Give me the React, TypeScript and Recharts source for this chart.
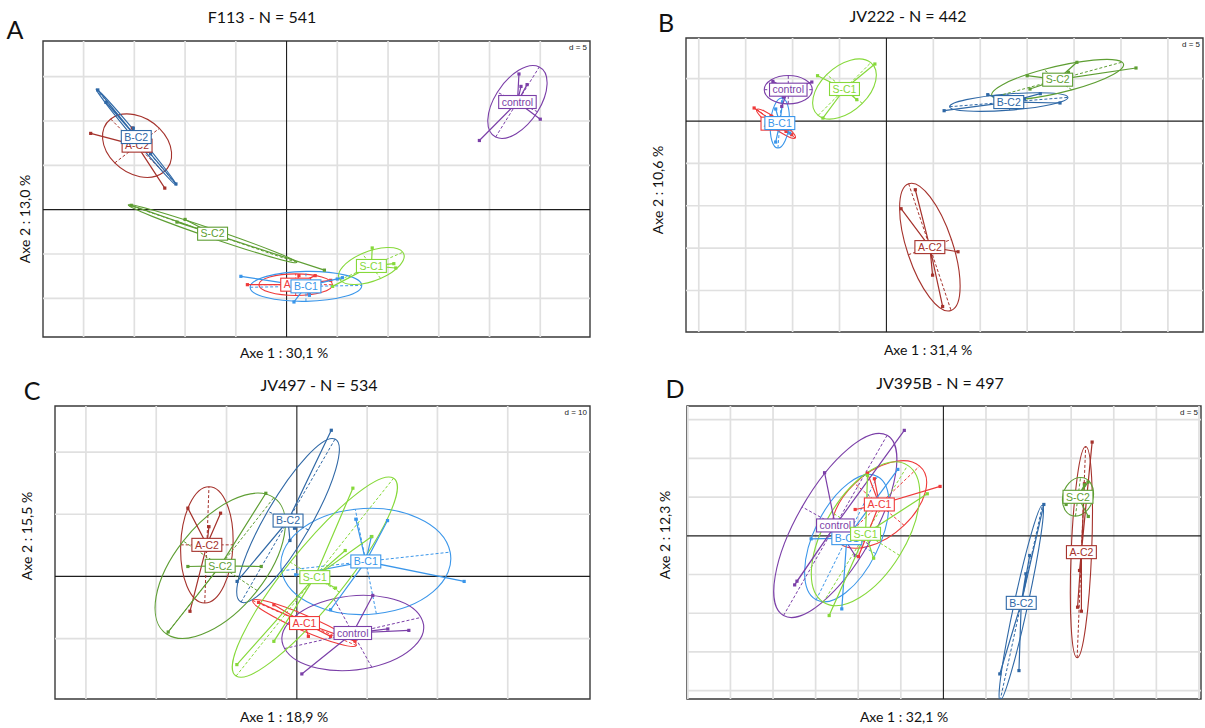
import { ReferenceArea, ReferenceLine, Scatter, ScatterChart, XAxis, YAxis } from "recharts";

type Pt = [number, number];
// ellipse half-axes as two conjugate vectors: [ux, uy, vx, vy]
type Axes = [number, number, number, number];

const groups = ["A-C1", "A-C2", "B-C1", "B-C2", "control", "S-C1", "S-C2"];
const groupColors: Record<string, string> = {
  "A-C1": "#ef3a3a",
  "A-C2": "#a5322c",
  "B-C1": "#3a96ea",
  "B-C2": "#2f68a6",
  control: "#7b3fa8",
  "S-C1": "#86d93a",
  "S-C2": "#5e9e33",
};

// ---- A : F113
const aXTicks = [-20, -15, -10, -5, 5, 10, 15, 20, 25];
const aYTicks = [-10, -5, 5, 10, 15];
const aCentroids: Record<string, Pt> = {
  "A-C1": [0.9, -8.46],
  "A-C2": [-14.73, 7.22],
  "B-C1": [1.91, -8.65],
  "B-C2": [-14.81, 8.19],
  control: [22.75, 12.14],
  "S-C1": [8.36, -6.35],
  "S-C2": [-7.29, -2.71],
};
const aPoints: Record<string, Pt[]> = {
  "A-C1": [[-3.86, -8.46], [1.22, -7.44], [2.82, -7.44], [2.25, -9.55], [4.35, -7.97]],
  "A-C2": [[-19.3, 8.6], [-12.0, 2.43], [-13.67, 6.58], [-15.2, 9.2]],
  "B-C1": [[-4.5, -7.52], [5.5, -7.67], [5.0, -7.82], [0.73, -10.41], [2.25, -9.66]],
  "B-C2": [[-18.6, 13.5], [-17.8, 12.1], [-15.1, 9.2], [-13.4, 6.3], [-10.9, 2.9]],
  control: [[22.9, 15.3], [23.1, 13.9], [23.7, 14.1], [25.0, 10.2], [19.0, 7.8]],
  "S-C1": [[8.44, -4.32], [10.57, -6.09], [10.76, -6.58], [4.54, -8.65]],
  "S-C2": [[-15.3, 0.49], [-10.8, -1.4], [-10.0, -1.1], [3.73, -6.82]],
};
const aEllipses: Record<string, Axes> = {
  "A-C1": [3.63, 0, 0, 1.22],
  "A-C2": [2.6, -3.0, 2.2, 1.95],
  "B-C1": [5.5, 0.1, 0, 1.69],
  "B-C2": [3.95, -5.42, 0.22, 0.16],
  control: [2.15, 3.95, -1.98, 1.1],
  "S-C1": [3.1, 1.55, -0.9, 1.4],
  "S-C2": [8.3, -3.25, 0.2, 0.45],
};

// ---- B : JV222
const bXTicks = [-20, -15, -10, -5, 5, 10, 15, 20, 25, 30];
const bYTicks = [-20, -15, -10, -5, 5];
const bCentroids: Record<string, Pt> = {
  "A-C1": [-11.77, -0.31],
  "A-C2": [4.63, -14.88],
  "B-C1": [-11.36, -0.24],
  "B-C2": [13.04, 2.24],
  control: [-10.46, 3.7],
  "S-C1": [-4.47, 3.78],
  "S-C2": [18.25, 4.88],
};
const bPoints: Record<string, Pt[]> = {
  "A-C1": [[-14.1, 1.54], [-10.1, -1.61], [-10.7, -1.22], [-12.3, 0.6]],
  "A-C2": [[3.08, -8.11], [1.56, -10.35], [7.63, -15.43], [4.92, -18.19], [5.99, -21.89]],
  "B-C1": [[-11.0, 2.8], [-11.8, 1.42], [-11.8, -2.48], [-10.3, -1.42]],
  "B-C2": [[6.15, 1.22], [10.8, 3.11], [16.4, 3.23], [18.5, 2.13], [14.7, 2.6]],
  control: [[-12.1, 4.68], [-7.95, 4.6], [-11.15, 1.73], [-10.95, 2.83]],
  "S-C1": [[-7.34, 5.35], [-1.23, 6.73], [-3.16, 2.52], [-6.77, 0.35]],
  "S-C2": [[15.0, 5.35], [20.3, 6.93], [26.6, 6.26], [15.3, 3.78], [19.4, 5.75]],
};
const bEllipses: Record<string, Axes> = {
  "A-C1": [2.05, -1.69, 0.35, 0.4],
  "A-C2": [2.26, -7.48, 2.3, 0.9],
  "B-C1": [0.2, 2.95, 1.0, 0],
  "B-C2": [6.3, 0.55, -0.1, 0.95],
  control: [2.56, 0, 0, 1.67],
  "S-C1": [2.81, 3.11, -1.9, 1.7],
  "S-C2": [6.87, 2.07, -1.5, 1.2],
};

// ---- C : JV497
const cXTicks = [-30, -20, -10, 10, 20, 30];
const cYTicks = [-10, 10, 20];
const cCentroids: Record<string, Pt> = {
  "A-C1": [1.09, -7.49],
  "A-C2": [-12.8, 5.08],
  "B-C1": [9.81, 2.41],
  "B-C2": [-1.25, 8.98],
  control: [7.96, -9.09],
  "S-C1": [2.56, -0.11],
  "S-C2": [-10.9, 1.71],
};
const cPoints: Record<string, Pt[]> = {
  "A-C1": [[-5.45, -4.17], [-3.27, -4.55], [1.64, -9.63], [4.8, -9.63], [8.28, -10.4]],
  "A-C2": [[-15.5, 10.98], [-10.85, 10.17], [-12.5, 8.0], [-15.2, -5.6]],
  "B-C1": [[8.39, 9.2], [12.9, 8.98], [23.8, -0.8], [-0.16, 0.27], [4.8, -5.35], [10.6, 6.4]],
  "B-C2": [[4.9, 23.5], [-0.33, 7.75], [-0.98, 5.78], [-8.5, -0.8]],
  control: [[10.8, -3.05], [12.94, -8.44], [15.93, -8.67], [0.71, -15.67]],
  "S-C1": [[7.97, 14.19], [10.67, 6.42], [6.88, 4.17], [-3.27, -10.43], [-8.53, -14.17], [5.5, -1.87]],
  "S-C2": [[-15.5, 1.6], [-5.07, 1.6], [-4.41, 13.37], [-18.3, -8.93]],
};
const cEllipses: Record<string, Axes> = {
  "A-C1": [7.36, -3.61, 0.5, 1.1],
  "A-C2": [0.3, 9.35, 3.72, 0],
  "B-C1": [12.0, 1.5, -1.5, 8.4],
  "B-C2": [6.68, 13.1, -2.9, 1.5],
  control: [9.7, 2.5, -2.7, 5.5],
  "S-C1": [11.2, 15.9, -3.5, 2.4],
  "S-C2": [7.63, 10.96, -5.26, 3.98],
};

// ---- D : JV395B
const dXTicks = [-30, -25, -20, -15, -10, -5, 5, 10, 15, 20, 25, 30];
const dYTicks = [-20, -15, -10, -5, 5, 10, 15];
const dCentroids: Record<string, Pt> = {
  "A-C1": [-7.52, 4.05],
  "A-C2": [16.2, -2.11],
  "B-C1": [-11.34, -0.3],
  "B-C2": [9.14, -8.66],
  control: [-12.69, 1.34],
  "S-C1": [-9.14, 0.26],
  "S-C2": [15.8, 5.04],
};
const dPoints: Record<string, Pt[]> = {
  "A-C1": [[-0.39, 6.38], [-10.36, 3.4], [-8.1, 7.37], [-8.92, 8.1], [-9.98, -2.68]],
  "A-C2": [[17.46, 12.11], [16.56, 6.72], [15.98, -4.48], [15.75, -9.22], [16.2, -9.74]],
  "B-C1": [[-5.35, 8.58], [-15.53, -0.39], [-11.93, -9.44]],
  "B-C2": [[11.79, 4.05], [10.13, -2.54], [9.68, -4.91], [6.62, -17.84], [8.87, -17.41]],
  control: [[-4.59, 13.62], [-13.95, 8.15], [-17.19, -5.86], [-17.46, -6.34], [-10.35, -2.54]],
  "S-C1": [[-1.89, 5.43], [-8.91, 7.8], [-8.19, -2.89], [-13.41, -10.3]],
  "S-C2": [[16.56, 6.59], [16.97, 6.94], [14.4, 4.05], [17.01, 2.5]],
};
const dEllipses: Record<string, Axes> = {
  "A-C1": [4.73, 4.96, -2.9, 2.7],
  "A-C2": [0.5, 13.64, 1.2, 0],
  "B-C1": [3.6, 7.97, -3.4, 2.0],
  "B-C2": [2.48, 12.6, 0.8, -0.1],
  control: [6.08, 11.64, -3.9, 2.4],
  "S-C1": [4.95, 8.84, -4.0, 2.8],
  "S-C2": [0.3, 2.5, 1.8, 0],
};

interface PanelSpec {
  letter: string;
  title: string;
  xLabel: string;
  yLabel: string;
  dText: string;
  xDomain: [number, number];
  yDomain: [number, number];
  xTicks: number[];
  yTicks: number[];
  centroids: Record<string, Pt>;
  points: Record<string, Pt[]>;
  ellipses: Record<string, Axes>;
  // layout (page pixels)
  box: { x: number; y: number; w: number; h: number };
  letterAt: Pt;
  titleAt: Pt;
  xLabelAt: Pt;
  yLabelAt: Pt;
}

const panels: PanelSpec[] = [
  {
    letter: "A", title: "F113 - N = 541", xLabel: "Axe 1 : 30,1 %", yLabel: "Axe 2 : 13,0 %", dText: "d = 5",
    xDomain: [-24.0, 29.9], yDomain: [-14.36, 19.02], xTicks: aXTicks, yTicks: aYTicks,
    centroids: aCentroids, points: aPoints, ellipses: aEllipses,
    box: { x: 43, y: 41, w: 547, h: 296 },
    letterAt: [15, 29], titleAt: [262, 17], xLabelAt: [284, 353], yLabelAt: [25, 219],
  },
  {
    letter: "B", title: "JV222 - N = 442", xLabel: "Axe 1 : 31,4 %", yLabel: "Axe 2 : 10,6 %", dText: "d = 5",
    xDomain: [-21.36, 33.74], yDomain: [-24.9, 9.8], xTicks: bXTicks, yTicks: bYTicks,
    centroids: bCentroids, points: bPoints, ellipses: bEllipses,
    box: { x: 686, y: 38, w: 517, h: 294 },
    letterAt: [666, 22], titleAt: [908, 16], xLabelAt: [928, 350], yLabelAt: [658, 190],
  },
  {
    letter: "C", title: "JV497 - N = 534", xLabel: "Axe 1 : 18,9 %", yLabel: "Axe 2 : 15,5 %", dText: "d = 10",
    xDomain: [-34.4, 41.7], yDomain: [-19.7, 27.4], xTicks: cXTicks, yTicks: cYTicks,
    centroids: cCentroids, points: cPoints, ellipses: cEllipses,
    box: { x: 55, y: 406, w: 535, h: 293 },
    letterAt: [32, 390], titleAt: [319, 385], xLabelAt: [284, 717], yLabelAt: [27, 536],
  },
  {
    letter: "D", title: "JV395B - N = 497", xLabel: "Axe 1 : 32,1 %", yLabel: "Axe 2 : 12,3 %", dText: "d = 5",
    xDomain: [-30.1, 30.24], yDomain: [-21.08, 16.77], xTicks: dXTicks, yTicks: dYTicks,
    centroids: dCentroids, points: dPoints, ellipses: dEllipses,
    box: { x: 687, y: 406, w: 514, h: 293 },
    letterAt: [675, 388], titleAt: [940, 383], xLabelAt: [904, 717], yLabelAt: [665, 535],
  },
];

const arialW: Record<string, number> = {
  A: 0.667, B: 0.667, C: 0.722, S: 0.667, "-": 0.333, "1": 0.556, "2": 0.556,
  c: 0.5, o: 0.556, n: 0.556, t: 0.278, r: 0.333, l: 0.222,
};
const labelFont = 10.5;
const textWidth = (s: string) =>
  s.split("").reduce((acc, ch) => acc + (arialW[ch] ?? 0.55), 0) * labelFont;

function LabelShape(props: any) {
  const { cx, cy, payload } = props;
  const w = textWidth(payload.name) + 6;
  const h = 13;
  return (
    <g>
      <rect x={cx - w / 2} y={cy - h / 2} width={w} height={h} fill="#fff" stroke={payload.color} strokeWidth={1.1} />
      <text
        x={cx}
        y={cy + 3.8}
        textAnchor="middle"
        fontSize={labelFont}
        fontFamily="'Liberation Sans', Arial, sans-serif"
        fill={payload.color}
      >
        {payload.name}
      </text>
    </g>
  );
}

function Panel({ spec }: { spec: PanelSpec }) {
  const { box, xDomain, yDomain } = spec;
  const m = 4;
  // pixels per data unit, from the same domain the axes use
  const kx = box.w / (xDomain[1] - xDomain[0]);
  const ky = box.h / (yDomain[1] - yDomain[0]);

  const ellipseShape = (color: string) => (props: any) => {
    const { cx, cy, payload } = props;
    const [ux, uy, vx, vy] = payload.axes as Axes;
    const a = ux * kx;
    const b = -uy * ky;
    const c = vx * kx;
    const d = -vy * ky;
    return (
      <g>
        <ellipse
          cx={0}
          cy={0}
          rx={1}
          ry={1}
          transform={`matrix(${a} ${b} ${c} ${d} ${cx} ${cy})`}
          fill="none"
          stroke={color}
          strokeWidth={1.1}
          vectorEffect="non-scaling-stroke"
        />
        <line x1={cx - a} y1={cy - b} x2={cx + a} y2={cy + b} stroke={color} strokeWidth={1} strokeDasharray="3 2" />
        <line x1={cx - c} y1={cy - d} x2={cx + c} y2={cy + d} stroke={color} strokeWidth={1} strokeDasharray="3 2" />
      </g>
    );
  };

  const dotShape = (color: string) => (props: any) => {
    if (props.payload.hub) return <g />;
    return <rect x={props.cx - 1.6} y={props.cy - 1.6} width={3.2} height={3.2} fill={color} />;
  };

  const labels = groups.map((g) => ({
    x: spec.centroids[g][0],
    y: spec.centroids[g][1],
    name: g,
    color: groupColors[g],
  }));

  return (
    <div style={{ position: "absolute", left: box.x - m, top: box.y - m }}>
      <ScatterChart width={box.w + 2 * m} height={box.h + 2 * m} margin={{ top: m, right: m, bottom: m, left: m }}>
        <XAxis type="number" dataKey="x" domain={xDomain} allowDataOverflow hide />
        <YAxis type="number" dataKey="y" domain={yDomain} allowDataOverflow hide />
        {spec.xTicks.map((t) => (
          <ReferenceLine key={`gx${t}`} x={t} stroke="#e0e0e0" strokeWidth={1.7} />
        ))}
        {spec.yTicks.map((t) => (
          <ReferenceLine key={`gy${t}`} y={t} stroke="#e0e0e0" strokeWidth={1.7} />
        ))}
        <ReferenceLine x={0} stroke="#1e1e1e" strokeWidth={1.1} />
        <ReferenceLine y={0} stroke="#1e1e1e" strokeWidth={1.2} />
        {groups.map((g) => (
          <Scatter
            key={`el-${g}`}
            data={[{ x: spec.centroids[g][0], y: spec.centroids[g][1], axes: spec.ellipses[g] }]}
            shape={ellipseShape(groupColors[g])}
            isAnimationActive={false}
          />
        ))}
        {groups.map((g) => {
          const [hx, hy] = spec.centroids[g];
          const star = spec.points[g].flatMap(([px, py]) => [
            { x: hx, y: hy, hub: true },
            { x: px, y: py, hub: false },
          ]);
          star.push({ x: hx, y: hy, hub: true });
          return (
            <Scatter
              key={`st-${g}`}
              data={star}
              fill={groupColors[g]}
              line={{ stroke: groupColors[g], strokeWidth: 1.2 }}
              shape={dotShape(groupColors[g])}
              isAnimationActive={false}
            />
          );
        })}
        <Scatter data={labels} shape={LabelShape} isAnimationActive={false} />
        <ReferenceArea
          x1={xDomain[0]}
          x2={xDomain[1]}
          y1={yDomain[0]}
          y2={yDomain[1]}
          fill="none"
          fillOpacity={0}
          stroke="#3a3a3a"
          strokeWidth={1.4}
        />
      </ScatterChart>
    </div>
  );
}

const textBase: React.CSSProperties = {
  position: "absolute",
  whiteSpace: "nowrap",
  color: "#111",
  fontFamily: "Lato, 'Open Sans', sans-serif",
  lineHeight: 1,
};

export default function App() {
  return (
    <div style={{ position: "absolute", left: 0, top: 0, width: 1205, height: 728, background: "#fff", overflow: "hidden" }}>
      {panels.map((p) => (
        <div key={p.letter}>
          <Panel spec={p} />
          <div style={{ ...textBase, left: p.letterAt[0], top: p.letterAt[1], fontSize: 25, transform: "translate(-50%, -50%)" }}>
            {p.letter}
          </div>
          <div style={{ ...textBase, left: p.titleAt[0], top: p.titleAt[1], fontSize: 16, transform: "translate(-50%, -50%)" }}>
            {p.title}
          </div>
          <div style={{ ...textBase, left: p.xLabelAt[0], top: p.xLabelAt[1], fontSize: 14, transform: "translate(-50%, -50%)" }}>
            {p.xLabel}
          </div>
          <div
            style={{
              ...textBase,
              left: p.yLabelAt[0],
              top: p.yLabelAt[1],
              fontSize: 14,
              transform: "translate(-50%, -50%) rotate(-90deg)",
            }}
          >
            {p.yLabel}
          </div>
          <div
            style={{
              ...textBase,
              left: p.box.x + p.box.w - 3,
              top: p.box.y + 3,
              fontSize: 8,
              fontFamily: "'Liberation Sans', Arial, sans-serif",
              color: "#222",
              transform: "translateX(-100%)",
            }}
          >
            {p.dText}
          </div>
        </div>
      ))}
    </div>
  );
}
